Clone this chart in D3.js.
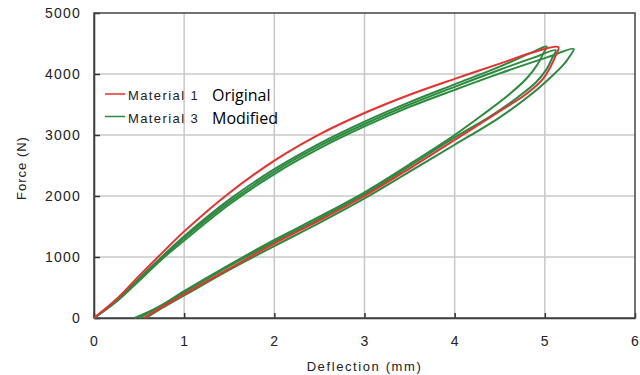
<!DOCTYPE html>
<html>
<head>
<meta charset="utf-8">
<script src="https://cdn.jsdelivr.net/npm/d3@7"></script>
<style>
  body { margin: 0; background: #fff; }
  svg text { font-family: "Liberation Sans", Arial, sans-serif; fill: #222; }
</style>
</head>
<body>
<div id="chart"></div>
<script>
{
// tick values
const ticksX = [0, 1, 2, 3, 4, 5, 6];
const ticksY = [0, 1000, 2000, 3000, 4000, 5000];

// Material 1 (Original): one load/unload cycle
const mat1Defl  = [0, 0.25, 0.5, 0.75, 1, 1.5, 2, 2.5, 3, 3.5, 4, 4.5, 4.9, 5.15,
                   5.12, 5.06, 4.98, 4.8, 4.5, 4, 3.5, 3, 2.5, 2, 1.5, 1, 0.75, 0.55];
const mat1Force = [0, 310, 690, 1060, 1420, 2050, 2580, 3010, 3360, 3660, 3920, 4170, 4370, 4440,
                   4300, 4110, 3920, 3680, 3390, 2920, 2450, 2000, 1600, 1220, 810, 390, 180, 0];

// Material 3 (Modified): three cycles
const mat3aDefl  = [0, 0.25, 0.5, 0.75, 1, 1.5, 2, 2.5, 3, 3.5, 4, 4.5, 4.85, 5.02,
                    4.98, 4.92, 4.8, 4.6, 4.3, 4, 3.5, 3, 2.5, 2, 1.5, 1, 0.7, 0.45];
const mat3aForce = [0, 290, 650, 1000, 1340, 1940, 2440, 2860, 3220, 3540, 3830, 4120, 4350, 4450,
                    4330, 4160, 3930, 3660, 3320, 3000, 2520, 2060, 1660, 1280, 870, 440, 170, 0];
const mat3bDefl  = [0, 0.25, 0.5, 0.75, 1, 1.5, 2, 2.5, 3, 3.5, 4, 4.5, 4.9, 5.12,
                    5.08, 5.02, 4.9, 4.7, 4.4, 4, 3.5, 3, 2.5, 2, 1.5, 1, 0.7, 0.5];
const mat3bForce = [0, 280, 630, 980, 1310, 1900, 2400, 2820, 3180, 3500, 3790, 4070, 4280, 4390,
                    4260, 4080, 3860, 3620, 3310, 2960, 2490, 2030, 1630, 1250, 850, 420, 160, 0];
const mat3cDefl  = [0, 0.25, 0.5, 0.75, 1, 1.5, 2, 2.5, 3, 3.5, 4, 4.5, 5, 5.32,
                    5.28, 5.2, 5.06, 4.86, 4.5, 4, 3.5, 3, 2.5, 2, 1.5, 1, 0.75, 0.58];
const mat3cForce = [0, 270, 610, 960, 1270, 1860, 2360, 2780, 3140, 3460, 3740, 4010, 4260, 4410,
                    4300, 4140, 3940, 3680, 3290, 2840, 2400, 1960, 1560, 1180, 790, 370, 160, 0];

const legendNames = ['Material 1', 'Material 3'];
const legendNotes = ['Original', 'Modified'];
const colors = ['#e8312f', '#2b8a3e'];

const width = 640, height = 375;
const margin = {top: 13, right: 5, bottom: 57, left: 94};

let svg = d3.select('#chart').append('svg')
    .attr('width', width)
    .attr('height', height);

let x = d3.scaleLinear().domain([0, 6]).range([margin.left, width - margin.right]);
let y = d3.scaleLinear().domain([0, 5000]).range([height - margin.bottom, margin.top]);

// gridlines
svg.append('g').selectAll('line').data(ticksX.slice(1, -1)).enter().append('line')
    .attr('x1', d => x(d)).attr('x2', d => x(d))
    .attr('y1', y(0)).attr('y2', y(5000))
    .style('stroke', '#c8c8c8').style('stroke-width', 1.5);
svg.append('g').selectAll('line').data(ticksY.slice(1, -1)).enter().append('line')
    .attr('x1', x(0)).attr('x2', x(6))
    .attr('y1', d => y(d)).attr('y2', d => y(d))
    .style('stroke', '#c8c8c8').style('stroke-width', 1.5);

// axes with inward ticks
let xAxis = svg.append('g')
    .attr('transform', `translate(0, ${y(0)})`)
    .call(d3.axisBottom(x).tickValues(ticksX).tickFormat(d3.format('d'))
        .tickSize(-5).tickSizeOuter(0).tickPadding(18));
let yAxis = svg.append('g')
    .attr('transform', `translate(${x(0)}, 0)`)
    .call(d3.axisLeft(y).tickValues(ticksY).tickFormat(d3.format('d'))
        .tickSize(-6).tickSizeOuter(0).tickPadding(13));

[xAxis, yAxis].forEach(function(a) {
    a.selectAll('path').style('stroke', '#333').style('stroke-width', 1.5);
    a.selectAll('line').style('stroke', '#333').style('stroke-width', 1.5);
    a.selectAll('text').style('font-size', '14px').style('letter-spacing', '1.2px')
        .style('font-family', '"Liberation Sans", Arial, sans-serif').style('fill', '#222');
});

// frame
svg.append('rect')
    .attr('x', x(0)).attr('y', y(5000))
    .attr('width', x(6) - x(0)).attr('height', y(0) - y(5000))
    .style('fill', 'none').style('stroke', '#444').style('stroke-width', 1.5);

// axis titles
svg.append('text')
    .attr('x', (x(0) + x(6)) / 2).attr('y', 371)
    .style('text-anchor', 'middle').style('font-size', '13px').style('letter-spacing', '1.6px')
    .text('Deflection (mm)');
svg.append('text')
    .attr('transform', `translate(26, 168) rotate(-90)`)
    .style('text-anchor', 'middle').style('font-size', '13px').style('letter-spacing', '1px')
    .text('Force (N)');

// curves
let line = d3.line()
    .x(d => x(d[0]))
    .y(d => y(d[1]))
    .curve(d3.curveCatmullRom.alpha(0.5));

function pairs(xs, ys) { return xs.map((v, i) => [v, ys[i]]); }

let greenCycles = [pairs(mat3aDefl, mat3aForce), pairs(mat3bDefl, mat3bForce), pairs(mat3cDefl, mat3cForce)];
svg.append('g').selectAll('path').data(greenCycles).enter().append('path')
    .attr('d', line)
    .style('fill', 'none').style('stroke', colors[1]).style('stroke-width', 2);

svg.append('path')
    .attr('d', line(pairs(mat1Defl, mat1Force)))
    .style('fill', 'none').style('stroke', colors[0]).style('stroke-width', 2);

// legend
let legend = svg.append('g');
legendNames.forEach(function(name, i) {
    let ly = 94 + i * 22.5;
    legend.append('line')
        .attr('x1', 105).attr('x2', 125).attr('y1', ly).attr('y2', ly)
        .style('stroke', colors[i]).style('stroke-width', 1.5);
    legend.append('text')
        .attr('x', 128).attr('y', ly + 6)
        .style('font-size', '13px').style('letter-spacing', '1.4px')
        .text(name);
    legend.append('text')
        .attr('x', 212).attr('y', ly + 7)
        .style('font-family', '"Open Sans", sans-serif').style('font-size', '16px').style('fill', '#000')
        .text(legendNotes[i]);
});
}
</script>
</body>
</html>
